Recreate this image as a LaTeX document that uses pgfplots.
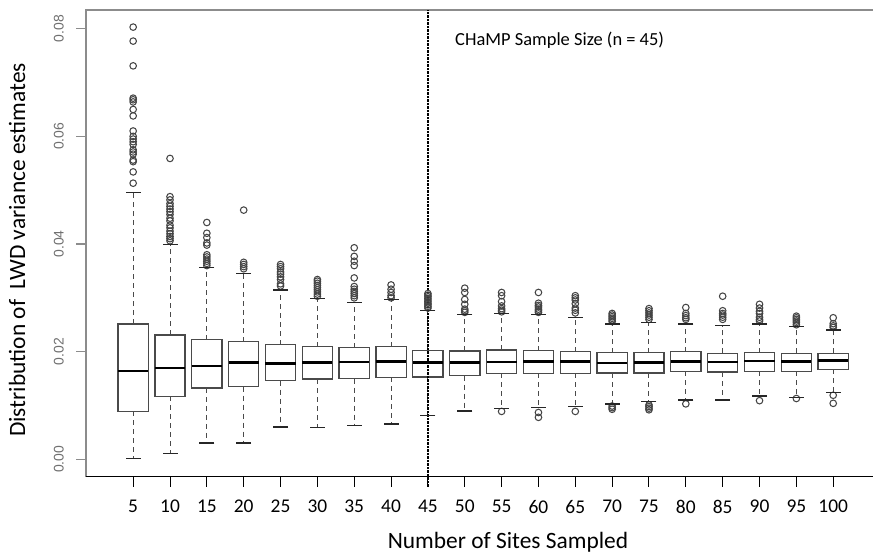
\documentclass[border=0pt]{standalone}
\usepackage{fontspec}
\setmainfont{Carlito}
\newfontfamily\arialf{Liberation Sans}
\usepackage{pgfplots}
\pgfplotsset{compat=1.18}
\usepgfplotslibrary{statistics}
\definecolor{boxgray}{HTML}{4A4A4A}
\definecolor{markgray}{HTML}{454545}
\definecolor{axgray}{HTML}{8C8C8C}
\definecolor{tickgray}{HTML}{707070}
\pgfplotsset{
  mybox/.style={
    boxgray, line width=1.3bp, solid,
    mark=o, mark size=3.3bp,
    mark options={solid, draw=markgray, line width=1.05bp},
    boxplot/draw direction=y,
    boxplot/box extend=0.82,
    boxplot/whisker extend=0,
    boxplot/every whisker/.style={line width=1bp, dash pattern=on 5bp off 4bp},
    boxplot/every median/.style={draw=black, line width=2.8bp},
  },
  capstyle/.style={only marks, mark=-, mark size=7.5bp, mark options={solid, draw=black!85, line width=1.1bp}},
}
\begin{document}
\begin{tikzpicture}
\begin{axis}[
  scale only axis, width=787bp, height=466.7bp,
  xmin=-1.28, xmax=20.08, ymin=-0.00323, ymax=0.08348,
  clip=false,
  axis line style={draw=none},
  xtick={0,1,2,3,4,5,6,7,8,9,10,11,12,13,14,15,16,17,18,19},
  xticklabels={5,10,15,20,25,30,35,40,45,50,55,60,65,70,75,80,85,90,95,100},
  ytick={0,0.02,0.04,0.06,0.08},
  yticklabels={0.00,0.02,0.04,0.06,0.08},
  scaled y ticks=false, scaled x ticks=false,
  xtick pos=bottom, ytick pos=left,
  tick align=outside,
  major tick length=10bp,
  xtick style={black, line width=1bp},
  ytick style={axgray, line width=1.2bp},
  yticklabel style={xshift=-12bp, rotate=90, anchor=south, font=\arialf\fontsize{14}{14}\selectfont, text=tickgray, inner sep=0pt},
  xticklabel style={yshift=-13bp, font=\fontsize{19.5}{19.5}\selectfont, inner sep=0pt, anchor=north},
  xlabel={Number of Sites Sampled},
  ylabel={Distribution of\ \ LWD variance estimates},
  xlabel style={font=\fontsize{23.5}{23.5}\selectfont, at={(axis description cs:0.5362,-0.1528)}, anchor=base, inner sep=0pt},
  ylabel style={font=\fontsize{23.5}{23.5}\selectfont, at={(axis description cs:-0.0775,0.4858)}, anchor=base, inner sep=0pt},
]
\addplot[mybox, boxplot prepared={draw position=0, lower whisker=0.0001, lower quartile=0.00892, median=0.01641, upper quartile=0.02514, upper whisker=0.04953}]
  table[row sep=\\, y index=0] {y\\ 0.0803\\ 0.0777\\ 0.0731\\ 0.0671\\ 0.0668\\ 0.0664\\ 0.0650\\ 0.0638\\ 0.0610\\ 0.0600\\ 0.0595\\ 0.0590\\ 0.0585\\ 0.0575\\ 0.0571\\ 0.0567\\ 0.0556\\ 0.0553\\ 0.0534\\ 0.0513\\};
\addplot[mybox, boxplot prepared={draw position=1, lower whisker=0.00104, lower quartile=0.01171, median=0.01697, upper quartile=0.02310, upper whisker=0.03988}]
  table[row sep=\\, y index=0] {y\\ 0.0559\\ 0.0488\\ 0.0482\\ 0.0475\\ 0.0470\\ 0.0465\\ 0.0460\\ 0.0455\\ 0.0448\\ 0.0443\\ 0.0435\\ 0.0430\\ 0.0424\\ 0.0419\\ 0.0414\\ 0.0410\\ 0.0406\\};
\addplot[mybox, boxplot prepared={draw position=2, lower whisker=0.00303, lower quartile=0.01325, median=0.01734, upper quartile=0.02223, upper whisker=0.03567}]
  table[row sep=\\, y index=0] {y\\ 0.0440\\ 0.0420\\ 0.0412\\ 0.0402\\ 0.0398\\ 0.0380\\ 0.0376\\ 0.0372\\ 0.0368\\ 0.0364\\ 0.0360\\};
\addplot[mybox, boxplot prepared={draw position=3, lower whisker=0.00303, lower quartile=0.01349, median=0.01795, upper quartile=0.02186, upper whisker=0.03456}]
  table[row sep=\\, y index=0] {y\\ 0.0463\\ 0.0366\\ 0.0362\\ 0.0358\\ 0.0354\\};
\addplot[mybox, boxplot prepared={draw position=4, lower whisker=0.0060, lower quartile=0.01460, median=0.01784, upper quartile=0.02129, upper whisker=0.03146}]
  table[row sep=\\, y index=0] {y\\ 0.0362\\ 0.0358\\ 0.0354\\ 0.0348\\ 0.0344\\ 0.0339\\ 0.0334\\ 0.0326\\ 0.0322\\};
\addplot[mybox, boxplot prepared={draw position=5, lower whisker=0.00587, lower quartile=0.01492, median=0.01802, upper quartile=0.02092, upper whisker=0.02991}]
  table[row sep=\\, y index=0] {y\\ 0.0334\\ 0.0331\\ 0.0327\\ 0.0323\\ 0.0319\\ 0.0315\\ 0.0311\\ 0.0307\\ 0.0303\\};
\addplot[mybox, boxplot prepared={draw position=6, lower whisker=0.00632, lower quartile=0.01498, median=0.01808, upper quartile=0.02074, upper whisker=0.02917}]
  table[row sep=\\, y index=0] {y\\ 0.0393\\ 0.0377\\ 0.0368\\ 0.0360\\ 0.0337\\ 0.0321\\ 0.0316\\ 0.0312\\ 0.0308\\ 0.0304\\ 0.0300\\};
\addplot[mybox, boxplot prepared={draw position=7, lower whisker=0.00656, lower quartile=0.01524, median=0.01813, upper quartile=0.02092, upper whisker=0.02973}]
  table[row sep=\\, y index=0] {y\\ 0.0324\\ 0.0316\\ 0.0310\\ 0.0304\\ 0.0300\\};
\addplot[mybox, boxplot prepared={draw position=8, lower whisker=0.0081, lower quartile=0.01529, median=0.01802, upper quartile=0.02018, upper whisker=0.02768}]
  table[row sep=\\, y index=0] {y\\ 0.0308\\ 0.0305\\ 0.0302\\ 0.0299\\ 0.0296\\ 0.0293\\ 0.0290\\ 0.0287\\ 0.0284\\ 0.0281\\};
\addplot[mybox, boxplot prepared={draw position=9, lower whisker=0.00897, lower quartile=0.01553, median=0.01795, upper quartile=0.02012, upper whisker=0.02694}]
  table[row sep=\\, y index=0] {y\\ 0.0318\\ 0.0310\\ 0.0297\\ 0.0288\\ 0.0279\\ 0.0276\\ 0.0273\\};
\addplot[mybox, boxplot prepared={draw position=10, lower whisker=0.0094, lower quartile=0.01598, median=0.01808, upper quartile=0.02031, upper whisker=0.02713}]
  table[row sep=\\, y index=0] {y\\ 0.0310\\ 0.0304\\ 0.0293\\ 0.0285\\ 0.0280\\ 0.0277\\ 0.0274\\ 0.0089\\};
\addplot[mybox, boxplot prepared={draw position=11, lower whisker=0.00959, lower quartile=0.01598, median=0.01813, upper quartile=0.02018, upper whisker=0.02694}]
  table[row sep=\\, y index=0] {y\\ 0.0310\\ 0.0290\\ 0.0286\\ 0.0283\\ 0.0279\\ 0.0276\\ 0.0273\\ 0.0087\\ 0.0078\\};
\addplot[mybox, boxplot prepared={draw position=12, lower whisker=0.00977, lower quartile=0.0160, median=0.01813, upper quartile=0.0200, upper whisker=0.02638}]
  table[row sep=\\, y index=0] {y\\ 0.0304\\ 0.0300\\ 0.0296\\ 0.0289\\ 0.0281\\ 0.0277\\ 0.0272\\ 0.0089\\};
\addplot[mybox, boxplot prepared={draw position=13, lower whisker=0.01027, lower quartile=0.01603, median=0.01789, upper quartile=0.01981, upper whisker=0.02514}]
  table[row sep=\\, y index=0] {y\\ 0.0271\\ 0.0268\\ 0.0265\\ 0.0262\\ 0.0259\\ 0.0256\\ 0.0099\\ 0.0096\\ 0.0093\\};
\addplot[mybox, boxplot prepared={draw position=14, lower whisker=0.0107, lower quartile=0.01603, median=0.01802, upper quartile=0.01981, upper whisker=0.02538}]
  table[row sep=\\, y index=0] {y\\ 0.0280\\ 0.0276\\ 0.0272\\ 0.0268\\ 0.0264\\ 0.0260\\ 0.0101\\ 0.0098\\ 0.0095\\ 0.0092\\};
\addplot[mybox, boxplot prepared={draw position=15, lower whisker=0.01102, lower quartile=0.01635, median=0.01821, upper quartile=0.0200, upper whisker=0.02514}]
  table[row sep=\\, y index=0] {y\\ 0.0282\\ 0.0271\\ 0.0267\\ 0.0263\\ 0.0260\\ 0.0103\\};
\addplot[mybox, boxplot prepared={draw position=16, lower whisker=0.01102, lower quartile=0.01622, median=0.01808, upper quartile=0.01969, upper whisker=0.02482}]
  table[row sep=\\, y index=0] {y\\ 0.0303\\ 0.0276\\ 0.0271\\ 0.0268\\ 0.0264\\ 0.0260\\};
\addplot[mybox, boxplot prepared={draw position=17, lower whisker=0.01176, lower quartile=0.01635, median=0.01826, upper quartile=0.01981, upper whisker=0.02514}]
  table[row sep=\\, y index=0] {y\\ 0.0288\\ 0.0281\\ 0.0275\\ 0.0271\\ 0.0264\\ 0.0260\\ 0.0257\\ 0.0109\\};
\addplot[mybox, boxplot prepared={draw position=18, lower whisker=0.01145, lower quartile=0.01635, median=0.01821, upper quartile=0.01969, upper whisker=0.02464}]
  table[row sep=\\, y index=0] {y\\ 0.0266\\ 0.0263\\ 0.0260\\ 0.0257\\ 0.0254\\ 0.0250\\ 0.0113\\};
\addplot[mybox, boxplot prepared={draw position=19, lower whisker=0.01235, lower quartile=0.01672, median=0.01832, upper quartile=0.01969, upper whisker=0.02402}]
  table[row sep=\\, y index=0] {y\\ 0.0263\\ 0.0252\\ 0.0248\\ 0.0245\\ 0.0119\\ 0.0104\\};
% whisker end caps (lower and upper whisker values of each box)
\addplot[capstyle] coordinates {(0,0.0001) (1,0.00104) (2,0.00303) (3,0.00303) (4,0.0060) (5,0.00587) (6,0.00632) (7,0.00656) (8,0.0081) (9,0.00897) (10,0.0094) (11,0.00959) (12,0.00977) (13,0.01027) (14,0.0107) (15,0.01102) (16,0.01102) (17,0.01176) (18,0.01145) (19,0.01235)};
\addplot[capstyle] coordinates {(0,0.04953) (1,0.03988) (2,0.03567) (3,0.03456) (4,0.03146) (5,0.02991) (6,0.02917) (7,0.02973) (8,0.02768) (9,0.02694) (10,0.02713) (11,0.02694) (12,0.02638) (13,0.02514) (14,0.02538) (15,0.02514) (16,0.02482) (17,0.02514) (18,0.02464) (19,0.02402)};
% frame
\draw[axgray, line width=1.6bp] (rel axis cs:0,0) -- (rel axis cs:0,1) -- (rel axis cs:1,1);
\draw[black, line width=1.1bp] (rel axis cs:0,0) -- (rel axis cs:1,0);
% CHaMP sample size line
\draw[black, line width=1.3bp, dash pattern=on 2.5bp off 1bp] (axis cs:8,-0.0051) -- (axis cs:8,0.08348);
\node[anchor=base west, inner sep=0pt, font=\fontsize{18.5}{19}\selectfont] at (axis description cs:0.4689,0.9229) {CHaMP Sample Size (n = 45)};
\end{axis}
\pgfresetboundingbox
\useasboundingbox (-86bp,-77.3bp) rectangle (787bp,476.7bp);
\end{tikzpicture}
\end{document}
